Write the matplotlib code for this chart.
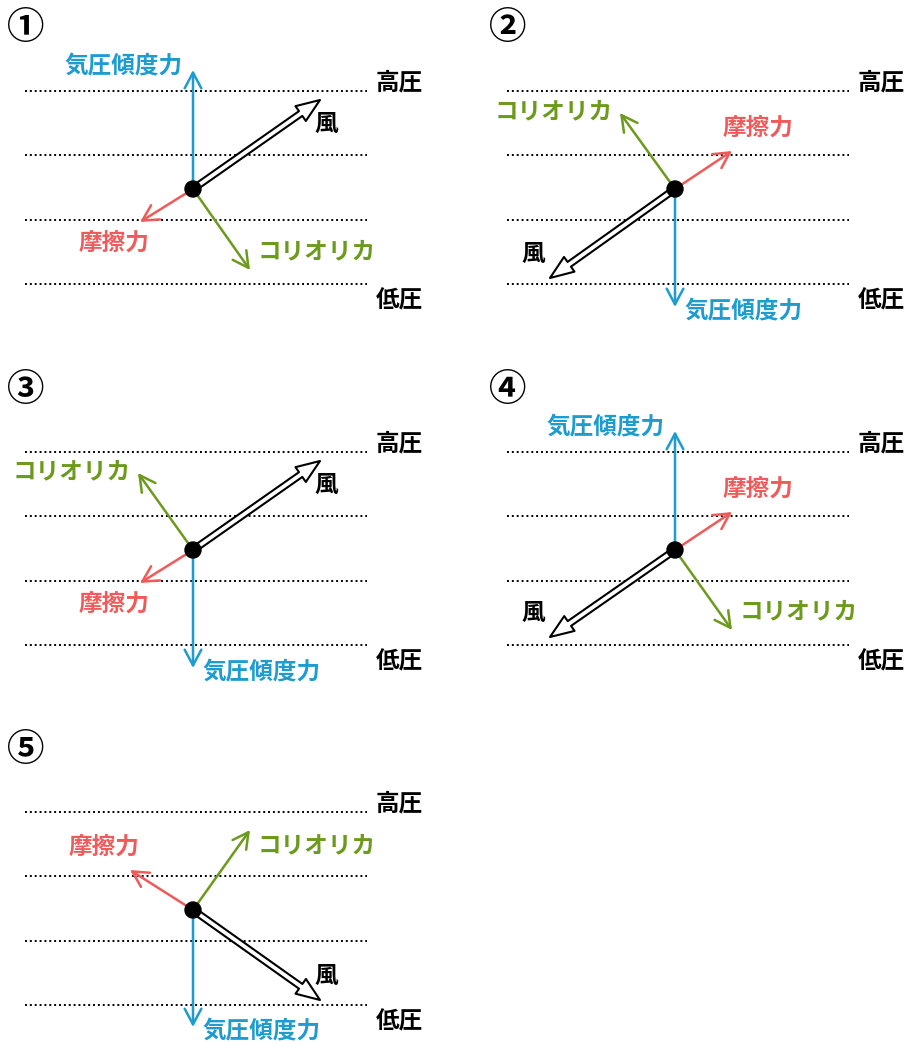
import matplotlib.pyplot as plt
from matplotlib.patches import FancyArrowPatch, Circle
import numpy as np

plt.rcParams['font.family'] = ['Noto Sans CJK JP', 'DejaVu Sans']

# 各図の番号
numeros = ['①', '②', '③', '④', '⑤']

# ベクトル (画像ピクセル単位, x右向き, y下向き)
vento_dx = [127, -125, 127, -125, 127]
vento_dy = [-89, 89, -89, 87, 90]
gradiente_dy = [-119, 118, 118, -119, 117]
atrito_dx = [-53, 57, -53, 57, -63]
atrito_dy = [33, -38, 33, -38, -40]
coriolis_dx = [57, -55, -55, 57, 57]
coriolis_dy = [81, -76, -77, 80, -80]

rotulos = {'vento': '風', 'gradiente': '気圧傾度力', 'atrito': '摩擦力', 'coriolis': 'コリオリカ'}
cores = {'vento': 'black', 'gradiente': '#1e9bcf', 'atrito': '#f05a5a', 'coriolis': '#6c9a1c'}

W, H = 907, 1043
fig = plt.figure(figsize=(W / 100, H / 100), dpi=100)
ax = fig.add_axes([0, 0, 1, 1])
ax.set_xlim(0, W)
ax.set_ylim(H, 0)
ax.axis('off')

# posicao de cada painel
offx = [0, 482, 0, 482, 0]
offy = [0, 0, 361, 361, 721]
linhas_y = [91, 155, 220, 284]
fs = 17


def seta_fina(x0, y0, dx, dy, cor):
    p = FancyArrowPatch((x0, y0), (x0 + dx, y0 + dy),
                        arrowstyle='->,head_length=0.75,head_width=0.4',
                        mutation_scale=15, color=cor, lw=1.8,
                        shrinkA=0, shrinkB=0, zorder=3)
    ax.add_patch(p)


for i in range(len(numeros)):
    ox, oy = offx[i], offy[i]
    ax.text(ox + 26, oy + 28, numeros[i], fontsize=27, ha='center', va='center',
            fontweight='bold', color='black')

    for y in linhas_y:
        ax.plot([ox + 25, ox + 367], [oy + y, oy + y], color='black', lw=1.4,
                linestyle=(0, (1, 1.5)), zorder=1)
    ax.text(ox + 376, oy + linhas_y[0] - 9, '高圧', fontsize=fs, fontweight='bold',
            ha='left', va='center')
    ax.text(ox + 376, oy + linhas_y[-1] + 16, '低圧', fontsize=fs, fontweight='bold',
            ha='left', va='center')

    cx, cy = ox + 193, oy + 189

    # 気圧傾度力
    gdy = gradiente_dy[i]
    seta_fina(cx, cy, 0, gdy, cores['gradiente'])
    if gdy < 0:
        ax.text(cx - 10, cy + gdy - 5, rotulos['gradiente'], fontsize=fs, fontweight='bold',
                color=cores['gradiente'], ha='right', va='center')
    else:
        ax.text(cx + 9, cy + gdy + 3, rotulos['gradiente'], fontsize=fs, fontweight='bold',
                color=cores['gradiente'], ha='left', va='center')

    # 摩擦力
    adx, ady = atrito_dx[i], atrito_dy[i]
    seta_fina(cx, cy, adx, ady, cores['atrito'])
    ax.text(cx + adx + np.sign(adx) * 26, cy + ady + np.sign(ady) * 22, rotulos['atrito'],
            fontsize=fs, fontweight='bold', color=cores['atrito'], ha='center', va='center')

    # コリオリカ
    kdx, kdy = coriolis_dx[i], coriolis_dy[i]
    seta_fina(cx, cy, kdx, kdy, cores['coriolis'])
    if kdx > 0:
        ty = cy + kdy + (-19 if kdy > 0 else 15)
        ax.text(cx + kdx + 8, ty, rotulos['coriolis'], fontsize=fs, fontweight='bold',
                color=cores['coriolis'], ha='left', va='center')
    else:
        ax.text(cx + kdx - 7, cy + kdy - 2, rotulos['coriolis'], fontsize=fs, fontweight='bold',
                color=cores['coriolis'], ha='right', va='center')

    # 風 (白抜き矢印)
    vdx, vdy = vento_dx[i], vento_dy[i]
    p = FancyArrowPatch((cx, cy), (cx + vdx, cy + vdy),
                        arrowstyle='simple,head_length=17,head_width=13,tail_width=4.2',
                        mutation_scale=1, facecolor='white', edgecolor='black', lw=1.5,
                        shrinkA=0, shrinkB=0, zorder=4)
    ax.add_patch(p)
    ax.text(cx + vdx + (6 if vdx > 0 else -17), cy + vdy - np.sign(vdy) * 24, rotulos['vento'],
            fontsize=fs, fontweight='bold', color='black', ha='center', va='center')

    ax.add_patch(Circle((cx, cy), 8, color='black', zorder=5))

fig.savefig('out.png', dpi=100)
